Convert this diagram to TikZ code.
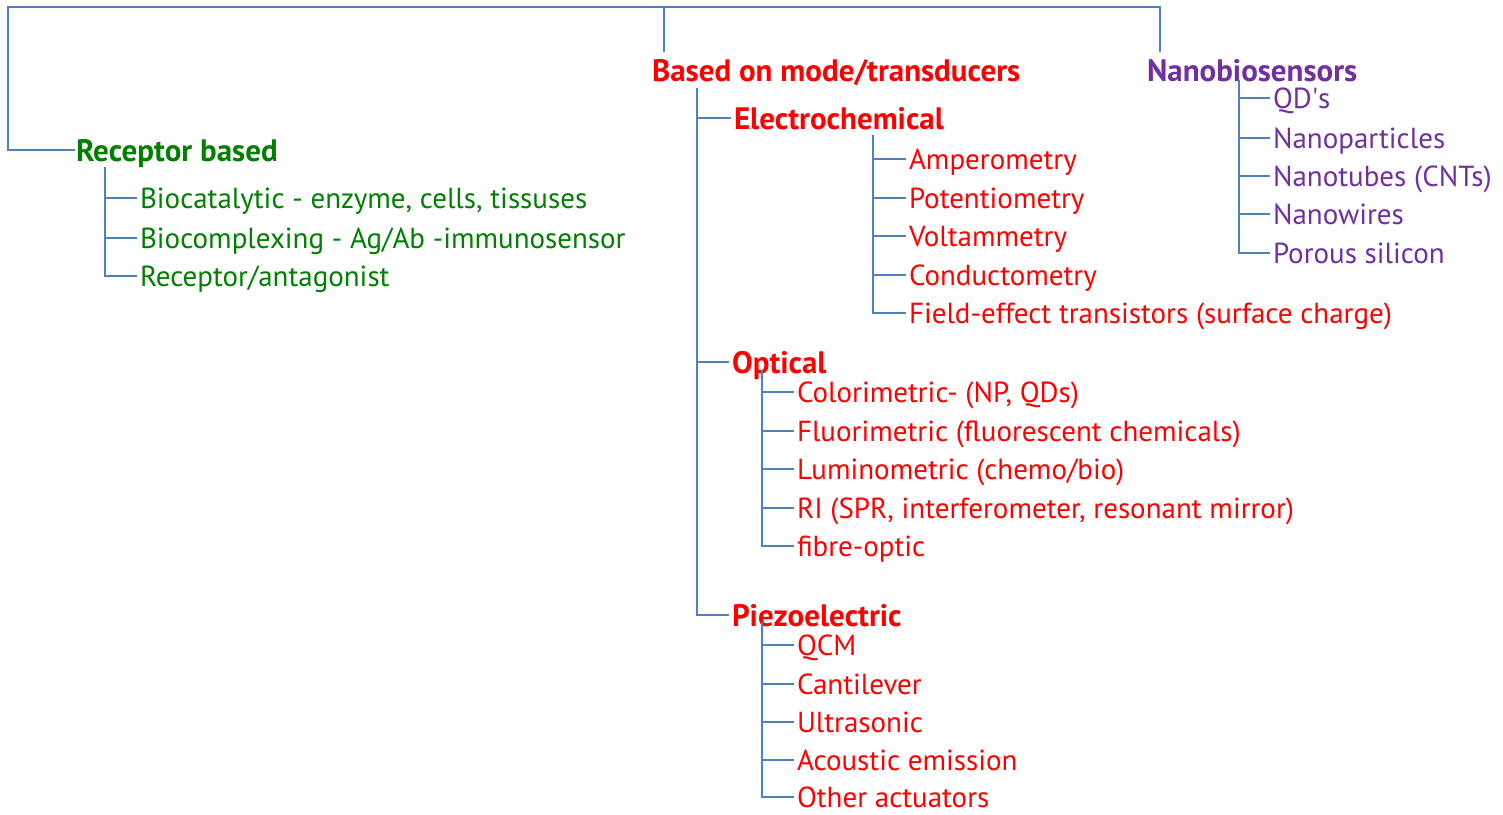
\documentclass[tikz,border=0pt]{standalone}
\usepackage{fontspec}
\setmainfont{PT Sans}
\definecolor{lineblue}{RGB}{79,129,189}
\definecolor{rgreen}{RGB}{0,128,0}
\definecolor{rred}{RGB}{255,0,0}
\definecolor{npurple}{RGB}{112,48,160}
\tikzset{
  conn/.style={draw=lineblue, line width=2.5pt},
  lbl/.style={anchor=west, inner sep=0pt, outer sep=0pt, text height=21pt, text depth=0pt,
    font=\fontsize{29}{32}\selectfont},
  hdr/.style={lbl, text height=22pt, font=\fontsize{31}{34}\selectfont\bfseries},
}
\begin{document}
\begin{tikzpicture}[x=1pt,y=-1pt]
\path[fill=white, use as bounding box] (0,0) rectangle (1503,814);

% headers
\node[hdr, text=rgreen] (rb) at (76,150) {Receptor based};
\node[hdr, text=rred] (mode) at (652,70) {Based on mode/transducers};
\node[hdr, text=npurple] (nano) at (1147,70) {Nanobiosensors};
\node[hdr, text=rred] (elec) at (734,118) {Electrochemical};
\node[hdr, text=rred] (opt) at (732,362) {Optical};
\node[hdr, text=rred] (piezo) at (732,615) {Piezoelectric};

% receptor children
\node[lbl, text=rgreen] (r1) at (140,198) {Biocatalytic - enzyme, cells, tissuses};
\node[lbl, text=rgreen] (r2) at (140,238) {Biocomplexing - Ag/Ab -immunosensor};
\node[lbl, text=rgreen] (r3) at (140,276) {Receptor/antagonist};

% electrochemical children
\node[lbl, text=rred] (e1) at (909,159) {Amperometry};
\node[lbl, text=rred] (e2) at (909,198) {Potentiometry};
\node[lbl, text=rred] (e3) at (909,236) {Voltammetry};
\node[lbl, text=rred] (e4) at (909,275) {Conductometry};
\node[lbl, text=rred] (e5) at (909,313) {Field-effect transistors (surface charge)};

% optical children
\node[lbl, text=rred] (o1) at (797,392) {Colorimetric- (NP, QDs)};
\node[lbl, text=rred] (o2) at (797,431) {Fluorimetric (fluorescent chemicals)};
\node[lbl, text=rred] (o3) at (797,469) {Luminometric (chemo/bio)};
\node[lbl, text=rred] (o4) at (797,508) {RI (SPR, interferometer, resonant mirror)};
\node[lbl, text=rred] (o5) at (797,546) {fibre-optic};

% piezo children
\node[lbl, text=rred] (p1) at (797,645) {QCM};
\node[lbl, text=rred] (p2) at (797,684) {Cantilever};
\node[lbl, text=rred] (p3) at (797,722) {Ultrasonic};
\node[lbl, text=rred] (p4) at (797,760) {Acoustic emission};
\node[lbl, text=rred] (p5) at (797,797) {Other actuators};

% nano children
\node[lbl, text=npurple] (n1) at (1273,98) {QD\textquotesingle s};
\node[lbl, text=npurple] (n2) at (1273,138) {Nanoparticles};
\node[lbl, text=npurple] (n3) at (1273,176) {Nanotubes (CNTs)};
\node[lbl, text=npurple] (n4) at (1273,214) {Nanowires};
\node[lbl, text=npurple] (n5) at (1273,253) {Porous silicon};

% top level connectors
\coordinate (tl) at (8,7);
\coordinate (tm) at (664,7);
\coordinate (tr) at (1160,7);
\coordinate (modeTop) at (664,52);
\coordinate (nanoTop) at (1160,52);
\draw[conn] ([xshift=-1pt]rb.west) -| (tl) -- (tr) -- (nanoTop);
\draw[conn] (tm) -- (modeTop);

% receptor subtree
\coordinate (rv) at (105,167);
\draw[conn] (rv) |- ([xshift=-3pt]r3.west);
\foreach \c in {r1,r2}{\draw[conn] (rv |- \c.west) -- ([xshift=-3pt]\c.west);}

% mode trunk
\coordinate (mv) at (697,88);
\draw[conn] (mv) |- ([xshift=-3pt]piezo.west);
\foreach \c in {elec,opt}{\draw[conn] (mv |- \c.west) -- ([xshift=-3pt]\c.west);}

% electro subtree
\coordinate (ev) at (873,135);
\draw[conn] (ev) |- ([xshift=-3pt]e5.west);
\foreach \c in {e1,e2,e3,e4}{\draw[conn] (ev |- \c.west) -- ([xshift=-3pt]\c.west);}

% optical subtree
\coordinate (ov) at (762,370);
\draw[conn] (ov) |- ([xshift=-3pt]o5.west);
\foreach \c in {o1,o2,o3,o4}{\draw[conn] (ov |- \c.west) -- ([xshift=-3pt]\c.west);}

% piezo subtree
\coordinate (pv) at (762,622);
\draw[conn] (pv) |- ([xshift=-3pt]p5.west);
\foreach \c in {p1,p2,p3,p4}{\draw[conn] (pv |- \c.west) -- ([xshift=-3pt]\c.west);}

% nano subtree
\coordinate (nv) at (1239,80);
\draw[conn] (nv) |- ([xshift=-3pt]n5.west);
\foreach \c in {n1,n2,n3,n4}{\draw[conn] (nv |- \c.west) -- ([xshift=-3pt]\c.west);}
\end{tikzpicture}
\end{document}
